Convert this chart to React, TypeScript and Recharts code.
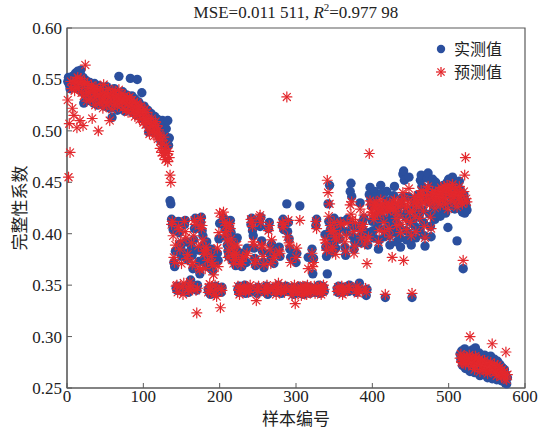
import { ScatterChart, Scatter, XAxis, YAxis, ReferenceArea } from 'recharts';

// sample ranges: A = 1..134, B = 135..524, C = 515..577
const startA = 1;
const startB = 135;
const startC = 515;

const actualA = [
  0.548, 0.552, 0.545, 0.541, 0.550, 0.547, 0.553, 0.543, 0.549, 0.545,
  0.556, 0.551, 0.545, 0.558, 0.549, 0.540, 0.555, 0.559, 0.546, 0.538,
  0.552, 0.527, 0.544, 0.536, 0.549, 0.531, 0.541, 0.545, 0.534, 0.547,
  0.529, 0.540, 0.543, 0.535, 0.527, 0.546, 0.538, 0.532, 0.541, 0.525,
  0.536, 0.544, 0.530, 0.539, 0.533, 0.528, 0.542, 0.536, 0.524, 0.538,
  0.531, 0.543, 0.527, 0.535, 0.540, 0.522, 0.533, 0.538, 0.513, 0.536,
  0.529, 0.541, 0.532, 0.526, 0.537, 0.520, 0.534, 0.553, 0.528, 0.535,
  0.523, 0.531, 0.538, 0.526, 0.533, 0.519, 0.530, 0.535, 0.524, 0.528,
  0.532, 0.521, 0.551, 0.527, 0.534, 0.518, 0.529, 0.524, 0.531, 0.516,
  0.526, 0.550, 0.522, 0.528, 0.519, 0.525, 0.513, 0.537, 0.521, 0.516,
  0.524, 0.510, 0.519, 0.514, 0.506, 0.520, 0.499, 0.515, 0.509, 0.517,
  0.504, 0.512, 0.507, 0.501, 0.514, 0.498, 0.509, 0.505, 0.511, 0.502,
  0.494, 0.507, 0.490, 0.503, 0.510, 0.497, 0.488, 0.509, 0.495, 0.502,
  0.491, 0.510, 0.486, 0.493,
];
const predictedA = [
  0.530, 0.455, 0.507, 0.479, 0.548, 0.541, 0.522, 0.546, 0.515, 0.539,
  0.549, 0.543, 0.503, 0.552, 0.541, 0.547, 0.510, 0.551, 0.537, 0.545,
  0.505, 0.534, 0.548, 0.564, 0.539, 0.529, 0.546, 0.537, 0.542, 0.531,
  0.538, 0.544, 0.512, 0.530, 0.541, 0.536, 0.525, 0.543, 0.533, 0.539,
  0.500, 0.535, 0.527, 0.541, 0.530, 0.536, 0.522, 0.545, 0.532, 0.528,
  0.537, 0.525, 0.534, 0.541, 0.528, 0.510, 0.536, 0.530, 0.521, 0.539,
  0.533, 0.526, 0.538, 0.529, 0.535, 0.524, 0.531, 0.540, 0.527, 0.533,
  0.529, 0.536, 0.522, 0.531, 0.527, 0.534, 0.520, 0.529, 0.532, 0.518,
  0.527, 0.533, 0.525, 0.521, 0.530, 0.523, 0.517, 0.528, 0.514, 0.525,
  0.520, 0.527, 0.516, 0.523, 0.511, 0.519, 0.524, 0.512, 0.518, 0.508,
  0.515, 0.521, 0.506, 0.513, 0.518, 0.503, 0.511, 0.497, 0.509, 0.504,
  0.512, 0.500, 0.507, 0.495, 0.503, 0.509, 0.498, 0.505, 0.492, 0.501,
  0.496, 0.483, 0.491, 0.479, 0.487, 0.476, 0.494, 0.481, 0.472, 0.486,
  0.478, 0.470, 0.480, 0.474,
];

const actualB = [
  0.432, 0.429, 0.414, 0.409, 0.404, 0.372, 0.368, 0.383, 0.347, 0.345,
  0.349, 0.412, 0.401, 0.390, 0.386, 0.378, 0.344, 0.348, 0.346, 0.409,
  0.413, 0.392, 0.381, 0.375, 0.343, 0.350, 0.347, 0.355, 0.387, 0.379,
  0.366, 0.394, 0.405, 0.415, 0.348, 0.345, 0.350, 0.384, 0.373, 0.361,
  0.411, 0.416, 0.403, 0.398, 0.389, 0.376, 0.371, 0.382, 0.392, 0.368,
  0.346, 0.343, 0.348, 0.341, 0.385, 0.378, 0.364, 0.372, 0.347, 0.344,
  0.349, 0.342, 0.381, 0.374, 0.395, 0.410, 0.346, 0.343, 0.348, 0.412,
  0.415, 0.408, 0.404, 0.411, 0.397, 0.389, 0.383, 0.378, 0.406, 0.413,
  0.401, 0.386, 0.374, 0.380, 0.392, 0.377, 0.369, 0.384, 0.396, 0.346,
  0.343, 0.349, 0.345, 0.375, 0.368, 0.381, 0.347, 0.344, 0.350, 0.342,
  0.372, 0.386, 0.345, 0.348, 0.343, 0.346, 0.409, 0.415, 0.403, 0.398,
  0.386, 0.376, 0.369, 0.345, 0.342, 0.348, 0.344, 0.412, 0.407, 0.416,
  0.393, 0.383, 0.372, 0.367, 0.346, 0.343, 0.349, 0.345, 0.341, 0.405,
  0.411, 0.381, 0.375, 0.390, 0.347, 0.344, 0.371, 0.383, 0.346, 0.343,
  0.348, 0.344, 0.350, 0.387, 0.378, 0.346, 0.342, 0.408, 0.414, 0.404,
  0.347, 0.344, 0.349, 0.429, 0.402, 0.411, 0.395, 0.385, 0.377, 0.345,
  0.343, 0.348, 0.341, 0.346, 0.344, 0.372, 0.381, 0.347, 0.343, 0.349,
  0.427, 0.345, 0.342, 0.348, 0.345, 0.341, 0.346, 0.344, 0.349, 0.343,
  0.347, 0.377, 0.345, 0.342, 0.348, 0.344, 0.385, 0.361, 0.376, 0.346,
  0.343, 0.408, 0.414, 0.347, 0.344, 0.350, 0.342, 0.346, 0.343, 0.349,
  0.345, 0.348, 0.344, 0.399, 0.387, 0.378, 0.361, 0.429, 0.412, 0.447,
  0.404, 0.396, 0.389, 0.382, 0.408, 0.415, 0.393, 0.386, 0.401, 0.347,
  0.343, 0.349, 0.395, 0.406, 0.412, 0.346, 0.343, 0.348, 0.345, 0.387,
  0.379, 0.402, 0.414, 0.347, 0.344, 0.350, 0.441, 0.449, 0.436, 0.408,
  0.397, 0.385, 0.392, 0.406, 0.343, 0.347, 0.345, 0.349, 0.352, 0.430,
  0.398, 0.391, 0.411, 0.403, 0.415, 0.395, 0.344, 0.340, 0.346, 0.389,
  0.401, 0.438, 0.445, 0.433, 0.427, 0.412, 0.403, 0.396, 0.441, 0.436,
  0.429, 0.418, 0.409, 0.385, 0.394, 0.422, 0.447, 0.439, 0.426, 0.415,
  0.404, 0.397, 0.338, 0.432, 0.441, 0.424, 0.411, 0.398, 0.389, 0.418,
  0.433, 0.405, 0.427, 0.437, 0.446, 0.413, 0.401, 0.392, 0.425, 0.419,
  0.408, 0.396, 0.387, 0.428, 0.435, 0.458, 0.461, 0.452, 0.417, 0.403,
  0.394, 0.421, 0.436, 0.455, 0.412, 0.399, 0.389, 0.338, 0.414, 0.426,
  0.433, 0.407, 0.396, 0.420, 0.429, 0.438, 0.416, 0.404, 0.452, 0.457,
  0.446, 0.423, 0.411, 0.398, 0.388, 0.435, 0.441, 0.454, 0.459, 0.431,
  0.419, 0.407, 0.397, 0.448, 0.453, 0.437, 0.426, 0.414, 0.450, 0.445,
  0.432, 0.421, 0.439, 0.428, 0.417, 0.443, 0.436, 0.425, 0.447, 0.438,
  0.429, 0.420, 0.441, 0.450, 0.406, 0.453, 0.446, 0.437, 0.428, 0.448,
  0.455, 0.441, 0.433, 0.424, 0.449, 0.444, 0.393, 0.437, 0.430, 0.451,
  0.443, 0.426, 0.435, 0.421, 0.366, 0.438, 0.420, 0.432, 0.427, 0.423,
];
const predictedB = [
  0.457, 0.450, 0.409, 0.412, 0.398, 0.377, 0.372, 0.389, 0.349, 0.350,
  0.343, 0.407, 0.404, 0.385, 0.393, 0.371, 0.348, 0.341, 0.352, 0.412,
  0.402, 0.396, 0.376, 0.380, 0.346, 0.344, 0.353, 0.349, 0.391, 0.370,
  0.372, 0.398, 0.413, 0.409, 0.345, 0.323, 0.347, 0.388, 0.367, 0.365,
  0.415, 0.405, 0.408, 0.394, 0.383, 0.380, 0.366, 0.387, 0.384, 0.374,
  0.343, 0.348, 0.351, 0.345, 0.378, 0.372, 0.369, 0.360, 0.341, 0.350,
  0.346, 0.339, 0.386, 0.368, 0.401, 0.420, 0.328, 0.347, 0.345, 0.416,
  0.421, 0.411, 0.399, 0.408, 0.402, 0.393, 0.377, 0.384, 0.410, 0.405,
  0.395, 0.390, 0.379, 0.371, 0.387, 0.382, 0.375, 0.380, 0.389, 0.349,
  0.345, 0.341, 0.347, 0.370, 0.373, 0.377, 0.345, 0.349, 0.346, 0.344,
  0.379, 0.381, 0.348, 0.343, 0.346, 0.350, 0.414, 0.411, 0.407, 0.392,
  0.389, 0.371, 0.375, 0.335, 0.347, 0.344, 0.349, 0.416, 0.418, 0.411,
  0.389, 0.387, 0.378, 0.370, 0.343, 0.346, 0.347, 0.350, 0.344, 0.403,
  0.408, 0.385, 0.371, 0.394, 0.345, 0.348, 0.376, 0.379, 0.349, 0.341,
  0.345, 0.347, 0.352, 0.383, 0.381, 0.344, 0.346, 0.411, 0.406, 0.409,
  0.343, 0.349, 0.346, 0.533, 0.397, 0.413, 0.391, 0.389, 0.372, 0.347,
  0.340, 0.345, 0.344, 0.350, 0.332, 0.377, 0.386, 0.343, 0.346, 0.345,
  0.413, 0.348, 0.340, 0.344, 0.349, 0.343, 0.344, 0.348, 0.346, 0.341,
  0.350, 0.366, 0.343, 0.346, 0.344, 0.347, 0.381, 0.368, 0.372, 0.349,
  0.342, 0.412, 0.405, 0.345, 0.348, 0.346, 0.344, 0.349, 0.341, 0.347,
  0.343, 0.350, 0.346, 0.394, 0.391, 0.384, 0.452, 0.440, 0.417, 0.429,
  0.408, 0.402, 0.384, 0.387, 0.403, 0.411, 0.397, 0.380, 0.394, 0.344,
  0.348, 0.345, 0.399, 0.411, 0.409, 0.349, 0.341, 0.346, 0.343, 0.392,
  0.383, 0.398, 0.410, 0.345, 0.349, 0.347, 0.428, 0.419, 0.431, 0.414,
  0.402, 0.381, 0.388, 0.411, 0.345, 0.349, 0.342, 0.346, 0.344, 0.424,
  0.403, 0.396, 0.407, 0.409, 0.418, 0.390, 0.347, 0.343, 0.371, 0.394,
  0.397, 0.478, 0.432, 0.428, 0.421, 0.418, 0.420, 0.414, 0.428, 0.425,
  0.431, 0.424, 0.419, 0.392, 0.403, 0.427, 0.433, 0.424, 0.429, 0.420,
  0.411, 0.402, 0.341, 0.426, 0.430, 0.422, 0.426, 0.405, 0.397, 0.423,
  0.428, 0.377, 0.431, 0.425, 0.433, 0.422, 0.415, 0.408, 0.429, 0.426,
  0.418, 0.409, 0.401, 0.432, 0.429, 0.440, 0.374, 0.434, 0.425, 0.413,
  0.404, 0.427, 0.431, 0.444, 0.421, 0.411, 0.398, 0.342, 0.422, 0.430,
  0.436, 0.417, 0.402, 0.428, 0.432, 0.436, 0.426, 0.415, 0.438, 0.442,
  0.435, 0.430, 0.422, 0.407, 0.396, 0.431, 0.437, 0.443, 0.446, 0.433,
  0.428, 0.416, 0.405, 0.438, 0.441, 0.434, 0.432, 0.425, 0.440, 0.436,
  0.439, 0.431, 0.442, 0.436, 0.428, 0.445, 0.438, 0.433, 0.441, 0.446,
  0.435, 0.429, 0.443, 0.447, 0.424, 0.444, 0.440, 0.437, 0.432, 0.445,
  0.448, 0.439, 0.436, 0.430, 0.443, 0.441, 0.426, 0.438, 0.434, 0.446,
  0.440, 0.432, 0.437, 0.429, 0.374, 0.441, 0.457, 0.474, 0.434, 0.431,
];

const actualC = [
  0.283, 0.278, 0.286, 0.272, 0.280, 0.275, 0.288, 0.269, 0.282, 0.277,
  0.285, 0.271, 0.279, 0.266, 0.283, 0.274, 0.287, 0.270, 0.278, 0.265,
  0.289, 0.276, 0.281, 0.268, 0.273, 0.284, 0.262, 0.277, 0.270, 0.280,
  0.266, 0.274, 0.282, 0.263, 0.271, 0.278, 0.260, 0.268, 0.275, 0.264,
  0.281, 0.269, 0.259, 0.273, 0.266, 0.278, 0.262, 0.270, 0.258, 0.276,
  0.267, 0.261, 0.273, 0.264, 0.257, 0.270, 0.263, 0.259, 0.268, 0.255,
  0.262, 0.254, 0.260,
];
const predictedC = [
  0.279, 0.283, 0.275, 0.277, 0.274, 0.281, 0.279, 0.273, 0.278, 0.280,
  0.276, 0.274, 0.282, 0.300, 0.279, 0.277, 0.271, 0.273, 0.275, 0.268,
  0.281, 0.279, 0.276, 0.272, 0.277, 0.278, 0.266, 0.274, 0.271, 0.276,
  0.268, 0.273, 0.277, 0.267, 0.272, 0.274, 0.264, 0.269, 0.271, 0.266,
  0.275, 0.270, 0.293, 0.271, 0.267, 0.273, 0.265, 0.268, 0.262, 0.272,
  0.266, 0.264, 0.270, 0.263, 0.261, 0.268, 0.265, 0.262, 0.266, 0.259,
  0.285, 0.258, 0.263,
];

const xTicks = [0, 100, 200, 300, 400, 500, 600];
const yTicks = [0.25, 0.3, 0.35, 0.4, 0.45, 0.5, 0.55, 0.6];

const BLUE = '#2b4f9e';
const RED = '#e3282d';
const AXIS = '#5a5a5a';
const SERIF = '"Liberation Serif", "Times New Roman", serif';
const CJK = '"Noto Sans CJK SC", sans-serif';

const toPoints = (start: number, values: number[]) =>
  values.map((v, i) => ({ x: start + i, y: v }));

const actual = [
  ...toPoints(startA, actualA),
  ...toPoints(startB, actualB),
  ...toPoints(startC, actualC),
];
const predicted = [
  ...toPoints(startA, predictedA),
  ...toPoints(startB, predictedB),
  ...toPoints(startC, predictedC),
];

const Dot = (props: any) => {
  const { cx, cy } = props;
  if (cx == null || cy == null) return null;
  return <circle cx={cx} cy={cy} r={4.7} fill={BLUE} />;
};

const Star = (props: any) => {
  const { cx, cy } = props;
  if (cx == null || cy == null) return null;
  const r = 5;
  const d = r * 0.72;
  return (
    <g stroke={RED} strokeWidth={1.2} strokeLinecap="round">
      <line x1={cx - r} y1={cy} x2={cx + r} y2={cy} />
      <line x1={cx} y1={cy - r} x2={cx} y2={cy + r} />
      <line x1={cx - d} y1={cy - d} x2={cx + d} y2={cy + d} />
      <line x1={cx - d} y1={cy + d} x2={cx + d} y2={cy - d} />
    </g>
  );
};

const XLabel = (props: any) => {
  const { viewBox } = props;
  return (
    <text x={viewBox.x + viewBox.width / 2} y={425} textAnchor="middle"
      style={{ fill: '#222', fontFamily: CJK, fontSize: 17 }}>
      样本编号
    </text>
  );
};

const YLabel = (props: any) => {
  const { viewBox } = props;
  const cy = viewBox.y + viewBox.height / 2;
  return (
    <text x={18} y={cy} textAnchor="middle" dominantBaseline="central"
      transform={`rotate(-90 18 ${cy})`}
      style={{ fill: '#222', fontFamily: CJK, fontSize: 17 }}>
      完整性系数
    </text>
  );
};

export default function App() {
  return (
    <div style={{ position: 'fixed', left: 0, top: 0, width: 541, height: 432, background: '#fff' }}>
      <div
        style={{
          position: 'absolute', left: 67, width: 458, top: 1, textAlign: 'center',
          fontFamily: SERIF, fontSize: 17, color: '#222', zIndex: 2,
        }}
      >
        MSE=0.011 511, <i>R</i><sup style={{ fontSize: 11 }}>2</sup>=0.977 98
      </div>
      <ScatterChart width={541} height={432} margin={{ top: 28, right: 16, bottom: 0, left: 0 }}>
        <XAxis
          type="number"
          dataKey="x"
          domain={[0, 600]}
          ticks={xTicks}
          height={44}
          tickSize={-5}
          tickMargin={7}
          stroke={AXIS}
          tick={{ fill: '#222', fontFamily: SERIF, fontSize: 17 }}
          label={<XLabel />}
        />
        <YAxis
          type="number"
          dataKey="y"
          domain={[0.25, 0.6]}
          ticks={yTicks}
          width={67}
          tickSize={-5}
          tickMargin={10}
          stroke={AXIS}
          tickFormatter={(v: number) => v.toFixed(2)}
          tick={{ fill: '#222', fontFamily: SERIF, fontSize: 17 }}
          label={<YLabel />}
        />
        <ReferenceArea x1={0} x2={600} y1={0.25} y2={0.6} fill="none" stroke={AXIS} strokeWidth={1.2} ifOverflow="visible" />
        <Scatter name="实测值" data={actual} shape={<Dot />} isAnimationActive={false} />
        <Scatter name="预测值" data={predicted} shape={<Star />} isAnimationActive={false} />
      </ScatterChart>
      <div style={{ position: 'absolute', left: 434, top: 37, fontFamily: CJK, fontSize: 16, color: '#222', lineHeight: '23px', zIndex: 2 }}>
        <div style={{ display: 'flex', alignItems: 'center' }}>
          <svg width={14} height={14}><circle cx={7} cy={7} r={4.2} fill={BLUE} /></svg>
          <span style={{ marginLeft: 6 }}>实测值</span>
        </div>
        <div style={{ display: 'flex', alignItems: 'center' }}>
          <svg width={14} height={14}>
            <g stroke={RED} strokeWidth={1.3}>
              <line x1={2} y1={7} x2={12} y2={7} />
              <line x1={7} y1={2} x2={7} y2={12} />
              <line x1={3.4} y1={3.4} x2={10.6} y2={10.6} />
              <line x1={3.4} y1={10.6} x2={10.6} y2={3.4} />
            </g>
          </svg>
          <span style={{ marginLeft: 6 }}>预测值</span>
        </div>
      </div>
    </div>
  );
}
